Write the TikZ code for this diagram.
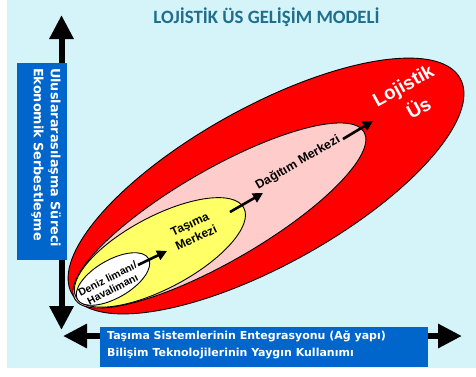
\documentclass[tikz,border=0pt]{standalone}
\usepackage{fontspec}
\setmainfont{Liberation Sans}
\newfontfamily\titlefont{Carlito}
\newfontfamily\boxfont{DejaVu Sans}
\usetikzlibrary{shapes.geometric,arrows.meta}
\definecolor{bgcyan}{HTML}{D4F4F9}
\definecolor{boxblue}{HTML}{0066CC}
\definecolor{titleteal}{HTML}{1F6E8C}
\definecolor{pinkfill}{HTML}{FFCCCC}
\definecolor{yellowfill}{HTML}{FFFF66}
\definecolor{redfill}{HTML}{FF0000}
\begin{document}
\begin{tikzpicture}[x=1pt,y=-1pt,
  ell/.style={ellipse, draw=black, line width=0.9pt, inner sep=0pt},
  axisarrow/.style={line width=6pt, {Triangle[width=23pt,length=24pt]}-{Triangle[width=23pt,length=24pt]}},
  smallarrow/.style={line width=2.6pt, -{Triangle[width=10pt,length=10pt]}},
  bluebox/.style={fill=boxblue, draw=none, inner sep=0pt},
  boxtext/.style={text=white, inner sep=0pt, align=left, font=\boxfont\bfseries\fontsize{11}{16.5}\selectfont},
  elltext/.style={inner sep=0pt, align=center, font=\bfseries\fontsize{11}{12}\selectfont}]

\useasboundingbox (0,0) rectangle (476,376);
\fill[white] (0,0) rectangle (476,376);
\fill[bgcyan] (7,0) rectangle (476,368);

% title
\node[font=\titlefont\bfseries\fontsize{18.8}{20}\selectfont, text=titleteal, inner sep=0pt] (title) at (266.5,17) {LOJİSTİK ÜS GELİŞİM MODELİ};

% axes
\coordinate (ybot) at (61.5,330);
\coordinate (ytop) at (61.5,15);
\coordinate (hleft) at (63,336);
\coordinate (hright) at (462,336);
\draw[axisarrow] (ybot) -- (ytop);
\draw[axisarrow] (hleft) -- (hright);

% blue boxes
\node[bluebox, minimum width=50, minimum height=197, anchor=north west] (vbox) at (17,63) {};
\node[boxtext, rotate=-90, anchor=north west, font=\boxfont\bfseries\fontsize{12.8}{17}\selectfont] (vtext) at (61,68) {Uluslararasılaşma Süreci\\Ekonomik Serbestleşme};
\node[bluebox, minimum width=328, minimum height=40, anchor=north west] (hbox) at (100,327) {};
\node[boxtext, anchor=north west] (htext) at (107,331) {Taşıma Sistemlerinin Entegrasyonu (Ağ yapı)\\Bilişim Teknolojilerinin Yaygın Kullanımı};

% ellipses
\node[ell, fill=redfill, minimum width=444, minimum height=158, rotate=29] (us) at (266,186) {};
\node[ell, fill=pinkfill, minimum width=334, minimum height=92, rotate=30] (dagitim) at (219.4,215.5) {};
\node[ell, fill=yellowfill, minimum width=190, minimum height=72, rotate=28] (tasima) at (159.9,252.4) {};
\node[ell, fill=white, minimum width=82, minimum height=38, rotate=30] (liman) at (113,279) {};

% arrows
\coordinate (a1s) at (138,265); \coordinate (a1e) at (167,251);
\coordinate (a2s) at (230,212); \coordinate (a2e) at (263,193);
\coordinate (a3s) at (343,139); \coordinate (a3e) at (373,121);
\draw[smallarrow] (a1s) -- (a1e);
\draw[smallarrow] (a2s) -- (a2e);
\draw[smallarrow] (a3s) -- (a3e);

% labels
\node[elltext, rotate=27, font=\bfseries\fontsize{10.5}{11.5}\selectfont] (limantext) at (110,284) {Deniz limanı/\\Havalimanı};
\node[elltext, rotate=25, font=\bfseries\fontsize{12}{15}\selectfont] (tasimatext) at (193,231) {Taşıma\\Merkezi};
\node[elltext, rotate=30, font=\bfseries\fontsize{12.5}{14}\selectfont] (dagitimtext) at (298,163) {Dağıtım Merkezi};
\node[elltext, rotate=29, text=white, font=\bfseries\fontsize{19}{23}\selectfont] (ustext1) at (404,87) {Lojistik};
\node[elltext, rotate=29, text=white, font=\bfseries\fontsize{19}{23}\selectfont] (ustext2) at (418,107) {Üs};
\end{tikzpicture}
\end{document}
